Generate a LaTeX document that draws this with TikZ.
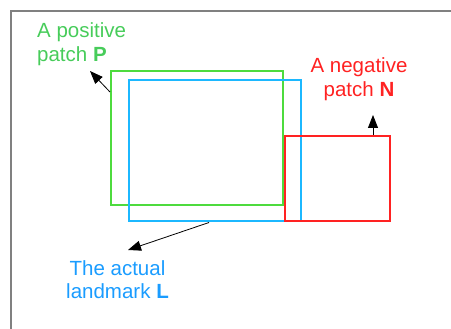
\documentclass[tikz,border=0pt]{standalone}
\usepackage{fontspec}
\setmainfont{Liberation Sans}
\usetikzlibrary{arrows.meta}
\definecolor{pgreen}{HTML}{4DDB3E}
\definecolor{tgreen}{HTML}{47CC5A}
\definecolor{pblue}{HTML}{1CB8FF}
\definecolor{tblue}{HTML}{1A9CFF}
\definecolor{pred}{HTML}{FF2222}
\definecolor{frame}{HTML}{808080}
\tikzset{
  patch/.style={draw, line width=2pt, inner sep=0pt, minimum width=#1},
  lbl/.style={inner sep=0pt, font=\fontsize{20.5}{24}\selectfont},
  pointer/.style={draw=black, line width=0.8pt, -{Triangle[length=13pt,width=10pt]}}
}
\begin{document}
\begin{tikzpicture}[x=1pt,y=-1pt]
\useasboundingbox (0,0) rectangle (451,329);
\draw[frame, line width=1.2pt] (11,329) -- (11,11) -- (451,11);
% patches
\node[patch=172pt, pgreen, minimum height=134pt] (P) at (197,138) {};
\node[patch=172pt, pblue, minimum height=141pt] (L) at (215,151) {};
\node[patch=105pt, pred, minimum height=85pt] (N) at (337.5,178.5) {};
% labels
\node[lbl, tgreen, align=left, anchor=base west] (tP) at (37,62) {A positive\\patch \textbf{P}};
\node[lbl, pred, align=center, anchor=base] (tN) at (359,97) {A negative\\patch \textbf{N}};
\node[lbl, tblue, align=center, anchor=base] (tL) at (117.5,299) {The actual\\landmark \textbf{L}};
% arrow ends
\coordinate (eP) at (90,71);
\coordinate (eN) at (373,115);
\coordinate (eL) at (128,250);
\draw[pointer] (P.west |- 0,92) -- (eP);
\draw[pointer] (N.north -| eN) -- (eN);
\draw[pointer] (L.south -| 209,0) -- (eL);
\end{tikzpicture}
\end{document}
